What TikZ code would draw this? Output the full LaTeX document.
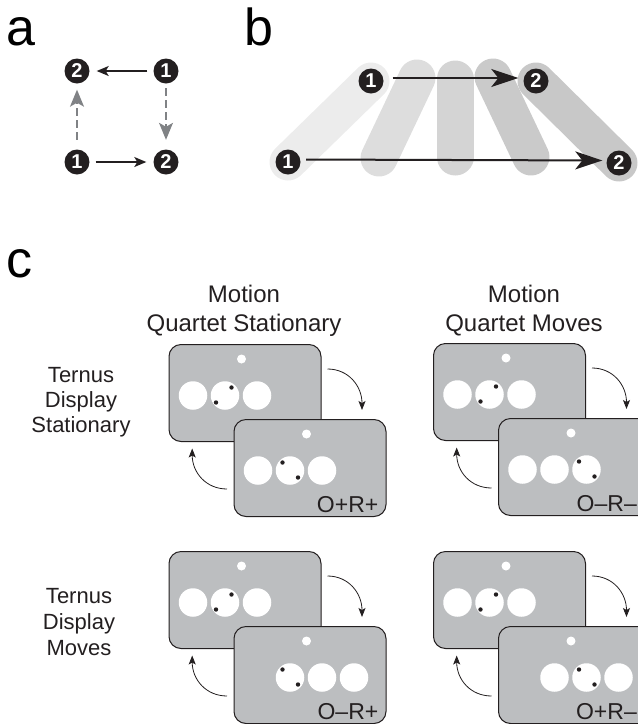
\documentclass[tikz,border=0pt]{standalone}
\usepackage{fontspec}
\setmainfont{Liberation Sans}
\usetikzlibrary{arrows.meta}
\definecolor{ink}{HTML}{231F20}
\definecolor{cardgray}{HTML}{BCBEC0}
\definecolor{dashgray}{HTML}{808285}
\definecolor{barA}{HTML}{ECECEC}
\definecolor{barB}{HTML}{DDDDDD}
\definecolor{barC}{HTML}{D4D4D4}
\definecolor{barD}{HTML}{CACACA}
\definecolor{barE}{HTML}{C8C8C8}

\tikzset{
  panel/.style={font=\fontsize{52}{52}\selectfont, anchor=base west, inner sep=0pt},
  head/.style={font=\fontsize{24}{28}\selectfont, anchor=base, inner sep=0pt, text=ink},
  rowhead/.style={font=\fontsize{22}{26}\selectfont, anchor=base, inner sep=0pt, text=ink},
  num/.style={circle, fill=ink, text=white, minimum size=25pt, inner sep=0pt,
    font=\fontsize{20}{20}\selectfont\bfseries},
  solidarrow/.style={draw=ink, line width=1.3pt, -{Stealth[length=12pt,width=10pt,inset=3pt]}},
  dasharrow/.style={draw=dashgray, line width=1.3pt, dash pattern=on 8pt off 4pt,
    -{Stealth[length=17pt,width=14pt,inset=4pt]}},
  bar/.style={line width=37pt, line cap=round},
  bigarrow/.style={draw=ink, line width=2pt, -{Stealth[length=27pt,width=18pt,inset=7pt]}},
  card/.style={draw=ink, line width=1pt, fill=cardgray, rounded corners=12pt,
    minimum width=152pt, minimum height=97pt, inner sep=0pt, anchor=north west},
  disc/.style={circle, fill=white, minimum size=28.5pt, inner sep=0pt},
  spot/.style={circle, fill=white, minimum size=9pt, inner sep=0pt},
  pin/.style={circle, fill=ink, minimum size=4.4pt, inner sep=0pt},
  cyc/.style={draw=ink, line width=0.8pt, -{Stealth[length=9pt,width=7pt,inset=2pt]}},
  tag/.style={anchor=base east, inner sep=0pt, text=ink, font=\fontsize{23}{24}\selectfont},
}

% A pair of overlapping frames: back frame with the dots in its middle disc,
% front frame with its discs starting at slot #4 and the dots in slot #5;
% #6 is the condition tag and #7 the right end of that tag.
\newcommand\framepair[7]{%
  \begin{scope}[shift={(#2,#3)}]
    \node[card] (#1back) at (0,0) {};
    \node[spot] (#1bspot) at (73,15) {};
    \foreach \k in {0,1,2} \node[disc] (#1bdisc\k) at (24.5+32*\k,51.5) {};
    \node[pin] (#1bpinA) at (63,43.5) {};
    \node[pin] (#1bpinB) at (47.5,58.5) {};
    \coordinate (#1outA) at (159,25);
    \coordinate (#1inA) at (193.5,66);
    \coordinate (#1outB) at (58.5,145);
    \coordinate (#1inB) at (23.7,104.5);
    \draw[cyc] (#1outA) .. controls +(21,0) and +(0,-24) .. (#1inA);
    \draw[cyc] (#1outB) .. controls +(-21,0) and +(0,24) .. (#1inB);
    \node[card] (#1front) at (65,75) {};
    \node[spot] (#1fspot) at (138,90) {};
    \foreach \k in {0,1,2} \node[disc] (#1fdisc\k) at (89.5+32*\k+32*#4,126.5) {};
    \node[pin] (#1fpinA) at (82+32*#5,118.5) {};
    \node[pin] (#1fpinB) at (97.5+32*#5,133.5) {};
    \node[tag] (#1tag) at (#7,168) {#6};
  \end{scope}}

\begin{document}
\begin{tikzpicture}[x=1pt,y=-1pt]
  \useasboundingbox (0,0) rectangle (638,724);
  \clip (0,0) rectangle (638,724);

  % panel labels
  \node[panel] (la) at (6,45) {a};
  \node[panel] (lb) at (244,45) {b};
  \node[panel] (lc) at (6,277) {c};

  % panel a: quartet
  \node[num] (a1) at (166,71) {1};
  \node[num] (a2) at (77,71) {2};
  \node[num] (a3) at (77,162) {1};
  \node[num] (a4) at (166,162) {2};
  \draw[solidarrow, shorten <=6pt, shorten >=7pt] (a1) -- (a2);
  \draw[solidarrow, shorten <=6pt, shorten >=7pt] (a3) -- (a4);
  \draw[dasharrow, shorten <=9.5pt, shorten >=6pt] (a3) -- (a2);
  \draw[dasharrow, shorten <=4.5pt, shorten >=9.5pt] (a1) -- (a4);

  % panel b: bars sweeping from the bottom pair to the top pair
  \coordinate (bar2lo) at (379,158);
  \coordinate (bar2hi) at (417,78);
  \coordinate (bar3lo) at (455,157);
  \coordinate (bar3hi) at (455,79);
  \coordinate (bar4lo) at (531,157);
  \coordinate (bar4hi) at (493,77);
  \coordinate (bt1) at (371,81);
  \coordinate (bt2) at (536,81);
  \coordinate (bb1) at (288,162);
  \coordinate (bb2) at (619,163);
  \draw[bar, barA] (bb1) -- (bt1);
  \draw[bar, barB] (bar2lo) -- (bar2hi);
  \draw[bar, barC] (bar3lo) -- (bar3hi);
  \draw[bar, barD] (bar4lo) -- (bar4hi);
  \draw[bar, barE] (bb2) -- (bt2);
  \node[num] (b1) at (bt1) {1};
  \node[num] (b2) at (bt2) {2};
  \node[num] (b3) at (bb1) {1};
  \node[num] (b4) at (bb2) {2};
  \draw[bigarrow, shorten <=9pt, shorten >=5pt] ([yshift=3pt]b1.east) -- ([yshift=3pt]b2.west);
  \draw[bigarrow, shorten <=5.5pt, shorten >=4pt] ([yshift=2.5pt]b3.east) -- ([yshift=2.5pt]b4.west);

  % panel c: headings
  \node[head] (h1a) at (244,302) {Motion};
  \node[head] (h1b) at (244,331) {Quartet Stationary};
  \node[head] (h2a) at (524,302) {Motion};
  \node[head] (h2b) at (524,331) {Quartet Moves};
  \node[rowhead] (r1a) at (81,382) {Ternus};
  \node[rowhead] (r1b) at (81,407) {Display};
  \node[rowhead] (r1c) at (81,432) {Stationary};
  \node[rowhead] (r2a) at (79,603) {Ternus};
  \node[rowhead] (r2b) at (79,629) {Display};
  \node[rowhead] (r2c) at (79,655) {Moves};

  % panel c: frame pairs
  \framepair{tl}{168.5}{344}{0}{1}{O+R+}{210}
  \framepair{tr}{433}{343}{0}{2}{O–R–}{204}
  \framepair{bl}{168.5}{551}{1}{1}{O–R+}{210}
  \framepair{br}{433}{551}{1}{2}{O+R–}{204}
\end{tikzpicture}
\end{document}
